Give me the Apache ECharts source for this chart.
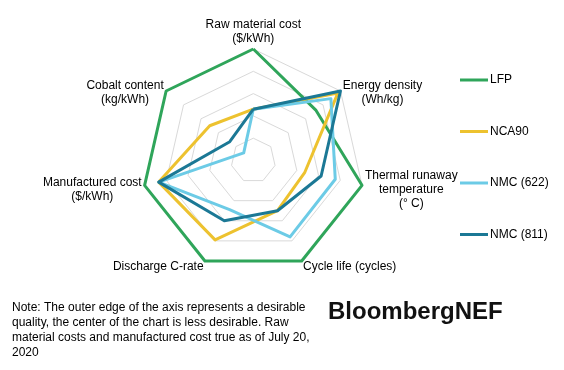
<!DOCTYPE html>
<html>
<head>
<meta charset="utf-8">
<script src="https://cdn.jsdelivr.net/npm/echarts@6/dist/echarts.min.js"></script>
<style>
html,body{margin:0;padding:0;background:#fff;}
#chart{width:564px;height:370px;}
</style>
</head>
<body>
<div id="chart"></div>
<script>
// Indicator order goes counterclockwise from the top
const indicators = [
  'Raw material cost\n($/kWh)',
  'Cobalt content\n(kg/kWh)',
  'Manufactured cost\n($/kWh)',
  'Discharge C-rate',
  'Cycle life (cycles)',
  'Thermal runaway\ntemperature\n(° C)',
  'Energy density\n(Wh/kg)'
];
const seriesNames = ['LFP', 'NCA90', 'NMC (622)', 'NMC (811)'];
const LFP    = [5, 5, 5, 5, 5, 5, 3.6];
const NCA90  = [2.3, 2.5, 4.35, 3.95, 2.5, 2.37, 4.85];
const NMC622 = [2.3, 0.55, 4.35, 2.45, 3.8, 3.77, 4.45];
const NMC811 = [2.3, 1.35, 4.35, 3.0, 2.5, 3.12, 5];
const colors = ['#2fa55a', '#edc22f', '#6ccbe6', '#1b7895'];
const noteText = 'Note: The outer edge of the axis represents a desirable\nquality, the center of the chart is less desirable. Raw\nmaterial costs and manufactured cost true as of July 20,\n2020';

const FONT = '"Liberation Sans", Arial, sans-serif';
const values = [LFP, NCA90, NMC622, NMC811];

const chart = echarts.init(document.getElementById('chart'), null, {renderer: 'canvas'});
chart.setOption({
  animation: false,
  backgroundColor: '#fff',
  color: colors,
  legend: {
    orient: 'vertical',
    left: 460,
    top: 74,
    padding: 0,
    itemWidth: 28,
    itemHeight: 3,
    itemGap: 39.5,
    icon: 'rect',
    textStyle: {fontSize: 12, color: '#000', fontFamily: FONT, padding: [0, 0, 0, -3]},
    data: seriesNames
  },
  radar: {
    center: [253.3, 160.5],
    radius: 111.5,
    startAngle: 90,
    splitNumber: 5,
    shape: 'polygon',
    nameGap: 3,
    indicator: indicators.map(n => ({name: n, min: 0, max: 5})),
    axisName: {
      color: '#000',
      fontSize: 12,
      fontFamily: FONT,
      padding: [7, 0, 0, 0],
      formatter: n => n.split('\n').map(s => '{c|' + s + '}').join('\n'),
      rich: {c: {align: 'center', fontSize: 12, color: '#000', fontFamily: FONT, lineHeight: 14.2}}
    },
    axisLine: {show: false},
    axisTick: {show: false},
    axisLabel: {show: false},
    splitLine: {lineStyle: {color: '#d9d9d9', width: 1}},
    splitArea: {show: false}
  },
  series: seriesNames.map((name, i) => ({
    type: 'radar',
    name: name,
    symbol: 'none',
    z: 2 + i,
    itemStyle: {color: colors[i]},
    lineStyle: {color: colors[i], width: 3},
    data: [{
      name: name,
      value: values[i],
      itemStyle: {color: colors[i]},
      lineStyle: {color: colors[i], width: 3}
    }]
  })),
  graphic: [
    {
      type: 'text',
      left: 12,
      top: 300,
      style: {text: noteText, font: '12px ' + FONT, fill: '#000', lineHeight: 15}
    },
    {
      type: 'text',
      left: 328,
      top: 300,
      style: {text: 'BloombergNEF', font: 'bold 24px ' + FONT, fill: '#111'}
    }
  ]
});
</script>
</body>
</html>
